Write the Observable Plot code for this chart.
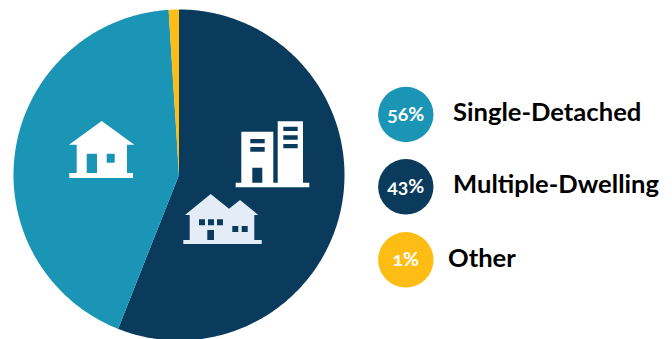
<!DOCTYPE html>
<html>
<head>
<meta charset="utf-8">
<script src="https://cdn.jsdelivr.net/npm/d3@7"></script>
<script src="https://cdn.jsdelivr.net/npm/@observablehq/plot@0.6"></script>
<style>
  html, body { margin: 0; padding: 0; background: #fff; }
  svg { display: block; }
  .pct text { font-variant-numeric: oldstyle-nums; font-feature-settings: "onum" 1; }
</style>
</head>
<body>
<div id="chart"></div>
<script>
// Housing mix: slices run clockwise from twelve o'clock.
const sliceNames = ["Dark slice", "Teal slice", "Yellow slice"];
const sliceShares = [56, 43, 1];
const sliceColors = ["#0a3b5d", "#1b95b6", "#fdbd14"];

// Legend rows, top to bottom.
const legendNames = ["Single-Detached", "Multiple-Dwelling", "Other"];
const legendValues = ["56%", "43%", "1%"];
const legendColors = ["#1b95b6", "#0a3b5d", "#fdbd14"];

const W = 672, H = 339;
const pie = {cx: 178.5, cy: 174.5, r: 165.5};
const legendX = 405.3, legendY = [114, 186.3, 259.3], labelX = [452.5, 452.5, 447.5], labelY = [112, 184, 258];

// Turn the shares into closed outlines on the pixel-aligned x/y scales.
const total = d3.sum(sliceShares);
let cumulative = 0;
const outline = sliceNames.flatMap((name, i) => {
  const a0 = cumulative / total * 2 * Math.PI;
  cumulative += sliceShares[i];
  const a1 = cumulative / total * 2 * Math.PI;
  const n = Math.max(2, Math.ceil((a1 - a0) * 60));
  const pts = [{name, color: sliceColors[i], x: pie.cx, y: pie.cy}];
  for (let k = 0; k <= n; ++k) {
    const a = a0 + (a1 - a0) * k / n;
    pts.push({name, color: sliceColors[i], x: pie.cx + pie.r * Math.sin(a), y: pie.cy - pie.r * Math.cos(a)});
  }
  return pts;
});

// Building pictograms, laid over the slices.
const glyphs = [
  {fill: "#ffffff", fillRule: "evenodd", d:
    "M101.7 121L134.3 144.7H127V173H133V178H69.3V173H76.7V144.7H69ZM86.7 153.7V173H97V153.7ZM106.7 153.7V162.7H114.7V153.7Z"},
  {fill: "#ffffff", fillRule: "evenodd", d:
    "M241.3 131.7H273.3V182.7H277.7V121.3H303V182.7H309.3V187.3H235.7V182.7H241.3Z" +
    "M250.3 139V143.3H264.7V139ZM250.3 147V151.7H264.7V147ZM252.3 167.7V182.7H262.3V167.7Z" +
    "M283.3 126.7V131H297.7V126.7ZM283.3 135.3V139.7H297.7V135.3ZM283.3 144V148.3H297.7V144Z"},
  {fill: "#e3ecf7", fillRule: "evenodd", d:
    "M210.7 194L229 208.7L240 200L258.3 215H254.3V240H261.7V244H183.3V240H189.7V215H185Z" +
    "M199 219.3V225.3H205V219.3ZM208 219.3V225.3H214V219.3ZM217 219.3V225.3H223V219.3Z" +
    "M232.3 226V232H238.3V226ZM241.7 226V232H247.7V226ZM207.3 230V240H214V230Z"}
];

const glyphMark = () => {
  const g = d3.create("svg:g");
  g.selectAll("path").data(glyphs).join("path")
    .attr("d", d => d.d)
    .attr("fill", d => d.fill)
    .attr("fill-rule", d => d.fillRule);
  return g.node();
};

const legendRows = legendNames.map((name, i) => ({
  name, value: legendValues[i], color: legendColors[i],
  cx: legendX, cy: legendY[i], lx: labelX[i], ly: labelY[i]
}));

const chart = Plot.plot({
  width: W,
  height: H,
  margin: 0,
  style: {background: "#fff", overflow: "hidden"},
  x: {domain: [0, W], range: [0, W], axis: null},
  y: {domain: [0, H], range: [0, H], axis: null},
  r: {type: "identity"},
  color: {type: "identity"},
  marks: [
    Plot.line(outline, {x: "x", y: "y", z: "name", fill: "color", stroke: null, curve: "linear-closed"}),
    glyphMark,
    Plot.dot(legendRows, {x: "cx", y: "cy", r: 27.7, fill: "color", stroke: null}),
    Plot.text(legendRows, {
      x: "cx", y: "cy", text: "value", fill: "#fff", fontSize: 19.5, fontWeight: 700,
      fontFamily: "Lato", textAnchor: "middle", lineAnchor: "middle", className: "pct"
    }),
    Plot.text(legendRows, {
      x: "lx", y: "ly", text: "name", fill: "#000", fontSize: 25.6, fontWeight: 700,
      fontFamily: "Lato", textAnchor: "start", lineAnchor: "middle"
    })
  ]
});
document.getElementById("chart").append(chart);
</script>
</body>
</html>
